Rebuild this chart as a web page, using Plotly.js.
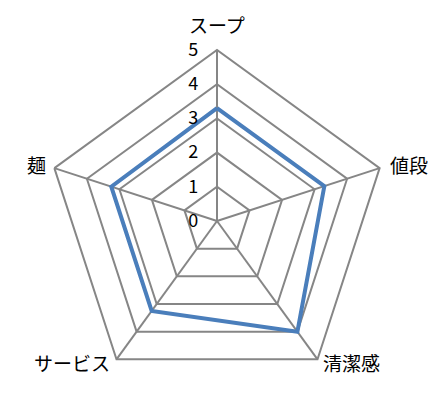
<!DOCTYPE html>
<html>
<head>
<meta charset="utf-8">
<script src="https://cdn.plot.ly/plotly-3.0.1.min.js"></script>
<style>
  html, body { margin:0; padding:0; background:#fff; }
  #plot { width:448px; height:419px; }
</style>
</head>
<body>
<div id="plot"></div>
<script>
// ======================= DATA =======================
const kategori = ['スープ', '値段', '清潔感', 'サービス', '麺'];
const nilai = [3.3, 3.3, 4.0, 3.25, 3.25];
const tick_nilai = [0, 1, 2, 3, 4, 5];

// close the polygon
const r_tutup = nilai.concat([nilai[0]]);
const theta_tutup = kategori.concat([kategori[0]]);

const trace = {
  type: 'scatterpolar',
  r: r_tutup,
  theta: theta_tutup,
  mode: 'lines',
  line: { color: '#4a7ebb', width: 4 },
  hoverinfo: 'skip'
};

const fontJP = '"Noto Sans CJK JP", "Noto Sans", sans-serif';

// category label placement (pixels in the page), Excel-style
const M = { l: 46, r: 60, t: 50, b: 27 };
const W = 448, H = 419;
const posLabel = [
  { px: 217, py: 25,  xa: 'center' },
  { px: 388, py: 164, xa: 'left' },
  { px: 321, py: 362, xa: 'left' },
  { px: 112, py: 362, xa: 'right' },
  { px: 48,  py: 164, xa: 'right' }
];
const pw = W - M.l - M.r, ph = H - M.t - M.b;
const annotations = kategori.map((k, i) => ({
  text: k,
  xref: 'paper', yref: 'paper',
  x: (posLabel[i].px - M.l) / pw,
  y: (H - M.b - posLabel[i].py) / ph,
  xanchor: posLabel[i].xa, yanchor: 'middle',
  showarrow: false,
  font: { family: fontJP, size: 19, color: '#000' }
}));

const layout = {
  width: W, height: H,
  margin: M,
  paper_bgcolor: '#fff',
  showlegend: false,
  font: { family: fontJP, size: 18, color: '#000' },
  annotations: annotations,
  polar: {
    bgcolor: '#fff',
    gridshape: 'linear',
    domain: { x: [0, 1], y: [0, 1] },
    radialaxis: {
      range: [0, 5],
      tickvals: tick_nilai,
      ticktext: tick_nilai.map(String),
      angle: 90,
      tickangle: 90,
      side: 'counterclockwise',
      ticks: 'outside', ticklen: 12, tickcolor: 'rgba(0,0,0,0)',
      showline: false,
      gridcolor: '#868686', gridwidth: 2,
      tickfont: { family: fontJP, size: 18, color: '#000' }
    },
    angularaxis: {
      rotation: 90,
      direction: 'clockwise',
      categoryarray: kategori,
      linecolor: '#868686', linewidth: 2,
      gridcolor: '#868686', gridwidth: 2,
      ticks: '',
      showticklabels: false
    }
  }
};

Plotly.newPlot('plot', [trace], layout, { staticPlot: true, displayModeBar: false });
</script>
</body>
</html>
